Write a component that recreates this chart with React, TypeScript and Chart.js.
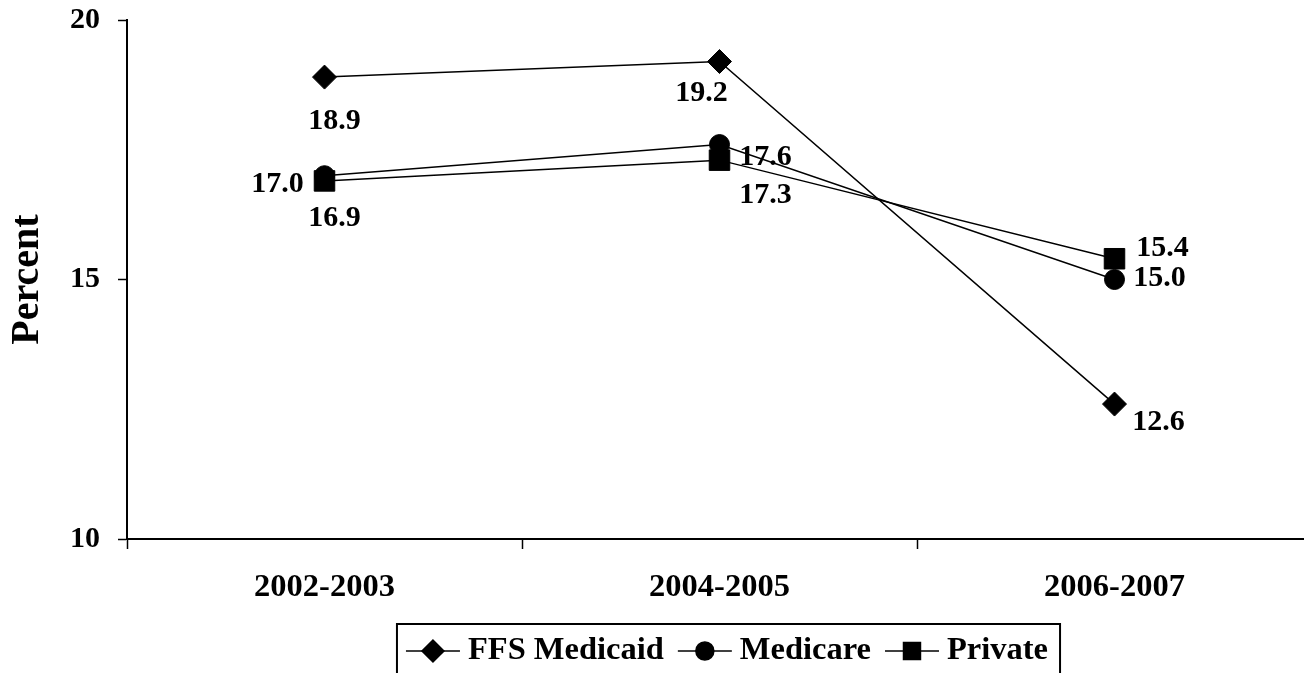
import { useEffect, useRef } from "react";
import { Chart, registerables, type Plugin, type PointStyle } from "chart.js";
import { drawPoint } from "chart.js/helpers";

Chart.register(...registerables);

const periods = ["2002-2003", "2004-2005", "2006-2007"];
const ffsMedicaid = [18.9, 19.2, 12.6];
const medicare = [17.0, 17.6, 15.0];
const privateIns = [16.9, 17.3, 15.4];
const yTicks = [10, 15, 20];

const FONT = '"Liberation Serif", "Times New Roman", serif';

// where each value label sits relative to its point (px), one row per series
const labelOffsets = [
  [[10, 44], [-18, 32], [44, 18]],
  [[-47, 9], [46, 13], [45, -1]],
  [[10, 37], [46, 35], [48, -10]],
];

const legendRadius: Record<string, number> = { rectRot: 11, circle: 9, rect: 12 };

const valueLabels: Plugin<"line"> = {
  id: "valueLabels",
  afterDatasetsDraw(chart) {
    const { ctx } = chart;
    ctx.save();
    ctx.font = `bold 30px ${FONT}`;
    ctx.fillStyle = "#000";
    ctx.textAlign = "center";
    ctx.textBaseline = "middle";
    chart.data.datasets.forEach((ds, i) => {
      chart.getDatasetMeta(i).data.forEach((pt, j) => {
        const [dx, dy] = labelOffsets[i][j];
        const v = ds.data[j] as number;
        ctx.fillText(v.toFixed(1), pt.x + dx, pt.y + dy);
      });
    });
    ctx.restore();
  },
};

const boxLegend: Plugin<"line"> = {
  id: "boxLegend",
  afterDraw(chart) {
    const { ctx } = chart;
    ctx.save();
    ctx.font = `bold 32.5px ${FONT}`;
    const sym = 54;
    const gapText = 8;
    const gapItem = 14;
    const items = chart.data.datasets.map((ds) => ({
      label: ds.label ?? "",
      style: (ds as any).pointStyle as PointStyle,
      w: ctx.measureText(ds.label ?? "").width,
    }));
    const total =
      items.reduce((s, it) => s + sym + gapText + it.w, 0) +
      gapItem * (items.length - 1);
    const cx = 727;
    const cy = 651;
    let x = cx - total / 2;

    ctx.strokeStyle = "#000";
    ctx.lineWidth = 2;
    ctx.strokeRect(x - 9, 624, total + 21, 80);

    ctx.fillStyle = "#000";
    ctx.textAlign = "left";
    ctx.textBaseline = "middle";
    items.forEach((it) => {
      ctx.lineWidth = 1.5;
      ctx.beginPath();
      ctx.moveTo(x, cy);
      ctx.lineTo(x + sym, cy);
      ctx.stroke();
      drawPoint(
        ctx,
        { pointStyle: it.style, rotation: 0, radius: legendRadius[it.style as string] ?? 10, borderWidth: 1 },
        x + sym / 2,
        cy
      );
      ctx.fillText(it.label, x + sym + gapText, cy);
      x += sym + gapText + it.w + gapItem;
    });
    ctx.restore();
  },
};

export default function App() {
  const canvasRef = useRef<HTMLCanvasElement | null>(null);

  useEffect(() => {
    const canvas = canvasRef.current;
    if (!canvas) return;

    const series = (label: string, data: number[], pointStyle: PointStyle, pointRadius: number) => ({
      label,
      data,
      pointStyle,
      pointRadius,
      borderColor: "#000",
      borderWidth: 1.5,
      pointBackgroundColor: "#000",
      pointBorderColor: "#000",
      pointBorderWidth: 1,
      tension: 0,
      fill: false,
    });

    const chart = new Chart(canvas, {
      type: "line",
      data: {
        labels: periods,
        datasets: [
          series("FFS Medicaid", ffsMedicaid, "rectRot", 12),
          series("Medicare", medicare, "circle", 10),
          series("Private", privateIns, "rect", 14.5),
        ],
      },
      options: {
        responsive: false,
        animation: false,
        devicePixelRatio: 1,
        layout: { autoPadding: false, padding: { top: 20, right: 8, left: 0, bottom: 0 } },
        plugins: {
          legend: { display: false },
          tooltip: { enabled: false },
        },
        scales: {
          x: {
            offset: true,
            grid: {
              offset: true,
              drawOnChartArea: false,
              tickLength: 10,
              color: "#000",
              tickWidth: 1.5,
            },
            border: { display: true, color: "#000", width: 2 },
            ticks: {
              color: "#000",
              padding: 19,
              font: { family: FONT, size: 32.5, weight: "bold" },
            },
            afterFit: (s) => {
              s.height = 134;
              s.paddingLeft = 0;
              s.paddingRight = 0;
            },
          },
          y: {
            min: 10,
            max: 20,
            afterBuildTicks: (s) => {
              s.ticks = yTicks.map((value) => ({ value }));
            },
            grid: {
              drawOnChartArea: false,
              tickLength: 9,
              color: "#000",
              tickWidth: 1.5,
            },
            border: { display: true, color: "#000", width: 2 },
            ticks: {
              color: "#000",
              padding: 18,
              font: { family: FONT, size: 30, weight: "bold" },
            },
            title: {
              display: true,
              text: "Percent",
              color: "#000",
              padding: { top: 4, bottom: 0 },
              font: { family: FONT, size: 40, weight: "bold" },
            },
            afterFit: (s) => {
              s.width = 127;
              s.paddingTop = 0;
              s.paddingBottom = 0;
            },
          },
        },
      },
      plugins: [valueLabels, boxLegend],
    });

    return () => chart.destroy();
  }, []);

  return (
    <div
      style={{
        position: "fixed",
        left: 0,
        top: 0,
        width: 1304,
        height: 673,
        overflow: "hidden",
        background: "#fff",
      }}
    >
      <canvas ref={canvasRef} width={1320} height={673} />
    </div>
  );
}
